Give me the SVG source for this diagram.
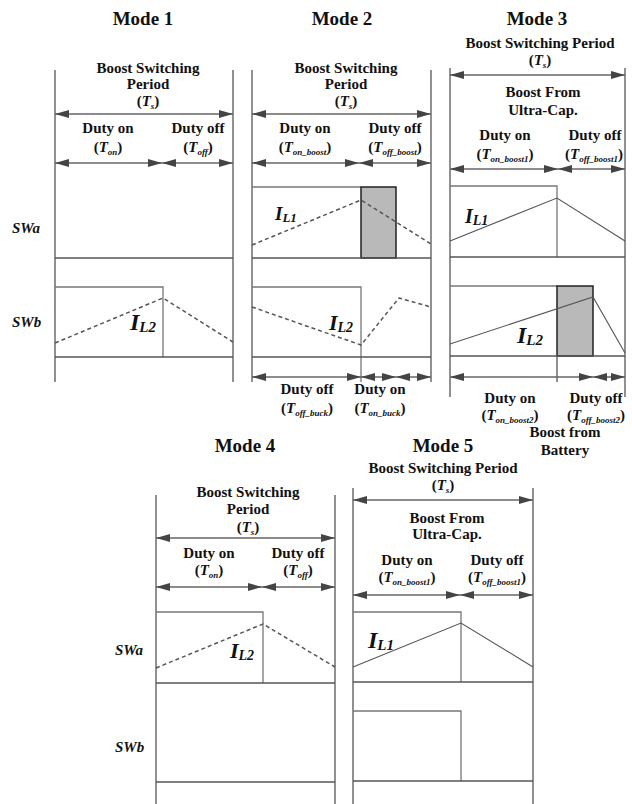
<svg xmlns="http://www.w3.org/2000/svg" width="632" height="804" viewBox="0 0 632 804">
<style>
text{font-family:"Liberation Serif","Times New Roman",serif;font-weight:bold;fill:#111}
.ttl{font-size:19px;text-anchor:middle}
.t{font-size:15px;text-anchor:middle}
.sw{font-size:15px;font-style:italic}
.i{font-style:italic}
.s{font-size:9px;font-style:italic}
.il{font-style:italic}
.v{stroke:#555;stroke-width:1.3;fill:none}
.h{stroke:#555;stroke-width:1.3;fill:none}
.p{stroke:#777;stroke-width:1.3;fill:none}
.d{stroke:#555;stroke-width:1.5;fill:none;stroke-dasharray:4 3}
.c{stroke:#555;stroke-width:1.1;fill:none}
.g{fill:#b9b9b9;stroke:#222;stroke-width:1.5}
.a{stroke:#666;stroke-width:1.5;fill:none;marker-start:url(#ah);marker-end:url(#ah)}
</style>
<defs>
<marker id="ah" viewBox="0 0 14 8" refX="14" refY="4" markerWidth="14" markerHeight="8" markerUnits="userSpaceOnUse" orient="auto-start-reverse"><path d="M0,0 L14,4 L0,8 z" fill="#444"/></marker>
</defs>

<g id="mode1">
<text class="ttl" x="143" y="25">Mode 1</text>
<line class="v" x1="55" y1="70" x2="55" y2="382"/>
<line class="v" x1="233" y1="70" x2="233" y2="382"/>
<text class="t" x="148" y="73">Boost Switching</text>
<text class="t" x="148" y="89">Period</text>
<text class="t" x="148" y="106">(<tspan class="i">T</tspan><tspan class="s" dy="3">s</tspan><tspan dy="-3">)</tspan></text>
<text class="t" x="108" y="133">Duty on</text>
<text class="t" x="108" y="152">(<tspan class="i">T</tspan><tspan class="s" dy="3">on</tspan><tspan dy="-3">)</tspan></text>
<text class="t" x="198" y="133">Duty off</text>
<text class="t" x="198" y="152">(<tspan class="i">T</tspan><tspan class="s" dy="3">off</tspan><tspan dy="-3">)</tspan></text>
<text class="sw" x="12" y="233">SWa</text>
<text class="sw" x="12" y="327">SWb</text>
<line class="h" x1="55" y1="258" x2="233" y2="258"/>
<polyline class="p" points="55,287 163,287 163,357"/>
<line class="h" x1="55" y1="357" x2="233" y2="357"/>
<polyline class="d" points="55,343 163,298 233,342"/>
<text class="il" x="130" y="330" font-size="24">I<tspan font-size="15" dy="2">L2</tspan></text>
</g>

<g id="mode2">
<text class="ttl" x="342" y="25">Mode 2</text>
<line class="v" x1="252" y1="70" x2="252" y2="382"/>
<line class="v" x1="431" y1="70" x2="431" y2="382"/>
<text class="t" x="346" y="73">Boost Switching</text>
<text class="t" x="346" y="89">Period</text>
<text class="t" x="346" y="106">(<tspan class="i">T</tspan><tspan class="s" dy="3">s</tspan><tspan dy="-3">)</tspan></text>
<text class="t" x="305" y="133">Duty on</text>
<text class="t" x="305" y="152">(<tspan class="i">T</tspan><tspan class="s" dy="3">on_boost</tspan><tspan dy="-3">)</tspan></text>
<text class="t" x="395" y="133">Duty off</text>
<text class="t" x="395" y="152">(<tspan class="i">T</tspan><tspan class="s" dy="3">off_boost</tspan><tspan dy="-3">)</tspan></text>
<polyline class="p" points="252,187 361,187"/>
<rect class="g" x="361" y="187" width="35" height="71"/>
<line class="h" x1="252" y1="258" x2="431" y2="258"/>
<polyline class="d" points="252,245 361,200 431,244"/>
<text class="il" x="275" y="220" font-size="19">I<tspan font-size="13" dy="2">L1</tspan></text>
<polyline class="p" points="252,287 361,287 361,382"/>
<line class="h" x1="252" y1="357" x2="431" y2="357"/>
<polyline class="d" points="252,307 361,345 399,298 431,307"/>
<text class="il" x="329" y="330" font-size="22">I<tspan font-size="14" dy="2">L2</tspan></text>
<text class="t" x="307" y="394">Duty off</text>
<text class="t" x="307" y="413">(<tspan class="i">T</tspan><tspan class="s" dy="3">off_buck</tspan><tspan dy="-3">)</tspan></text>
<text class="t" x="380" y="394">Duty on</text>
<text class="t" x="380" y="413">(<tspan class="i">T</tspan><tspan class="s" dy="3">on_buck</tspan><tspan dy="-3">)</tspan></text>
</g>

<g id="mode3">
<text class="ttl" x="537" y="25">Mode 3</text>
<line class="v" x1="450" y1="68" x2="450" y2="397"/>
<line class="v" x1="625" y1="68" x2="625" y2="397"/>
<text class="t" x="540" y="48">Boost Switching Period</text>
<text class="t" x="540" y="65">(<tspan class="i">T</tspan><tspan class="s" dy="3">s</tspan><tspan dy="-3">)</tspan></text>
<text class="t" x="543" y="97">Boost From</text>
<text class="t" x="543" y="115">Ultra-Cap.</text>
<text class="t" x="505" y="140">Duty on</text>
<text class="t" x="505" y="159">(<tspan class="i">T</tspan><tspan class="s" dy="3">on_boost1</tspan><tspan dy="-3">)</tspan></text>
<text class="t" x="595" y="140">Duty off</text>
<text class="t" x="594" y="159">(<tspan class="i">T</tspan><tspan class="s" dy="3">off_boost1</tspan><tspan dy="-3">)</tspan></text>
<polyline class="p" points="450,186 557,186 557,257"/>
<line class="h" x1="450" y1="257" x2="625" y2="257"/>
<polyline class="c" points="450,241 557,198 625,241"/>
<text class="il" x="465" y="223" font-size="20">I<tspan font-size="14" dy="2">L1</tspan></text>
<polyline class="p" points="450,286 557,286"/>
<rect class="g" x="557" y="286" width="36" height="70"/>
<line class="h" x1="450" y1="356" x2="625" y2="356"/>
<line class="v" x1="557" y1="356" x2="557" y2="382"/>
<polyline class="c" points="450,344 593,297 625,353"/>
<text class="il" x="517" y="343" font-size="24">I<tspan font-size="15" dy="2">L2</tspan></text>
<text class="t" x="510" y="403">Duty on</text>
<text class="t" x="510" y="420">(<tspan class="i">T</tspan><tspan class="s" dy="3">on_boost2</tspan><tspan dy="-3">)</tspan></text>
<text class="t" x="596" y="403">Duty off</text>
<text class="t" x="596" y="420">(<tspan class="i">T</tspan><tspan class="s" dy="3">off_boost2</tspan><tspan dy="-3">)</tspan></text>
<text class="t" x="565" y="437">Boost from</text>
<text class="t" x="565" y="455">Battery</text>
</g>

<g id="mode4">
<text class="ttl" x="245" y="452">Mode 4</text>
<line class="v" x1="156" y1="495" x2="156" y2="804"/>
<line class="v" x1="335" y1="495" x2="335" y2="804"/>
<text class="t" x="248" y="497">Boost Switching</text>
<text class="t" x="248" y="514">Period</text>
<text class="t" x="248" y="532">(<tspan class="i">T</tspan><tspan class="s" dy="3">s</tspan><tspan dy="-3">)</tspan></text>
<text class="t" x="209" y="558">Duty on</text>
<text class="t" x="209" y="575">(<tspan class="i">T</tspan><tspan class="s" dy="3">on</tspan><tspan dy="-3">)</tspan></text>
<text class="t" x="298" y="558">Duty off</text>
<text class="t" x="298" y="575">(<tspan class="i">T</tspan><tspan class="s" dy="3">off</tspan><tspan dy="-3">)</tspan></text>
<text class="sw" x="115" y="655">SWa</text>
<text class="sw" x="115" y="752">SWb</text>
<polyline class="p" points="156,612 263,612 263,683"/>
<line class="h" x1="156" y1="683" x2="335" y2="683"/>
<polyline class="d" points="156,668 263,624 335,667"/>
<text class="il" x="230" y="658" font-size="22">I<tspan font-size="14" dy="2">L2</tspan></text>
<line class="h" x1="156" y1="782" x2="335" y2="782"/>
</g>

<g id="mode5">
<text class="ttl" x="443" y="452">Mode 5</text>
<line class="v" x1="353" y1="488" x2="353" y2="804"/>
<line class="v" x1="533" y1="488" x2="533" y2="804"/>
<text class="t" x="443" y="473">Boost Switching Period</text>
<text class="t" x="443" y="490">(<tspan class="i">T</tspan><tspan class="s" dy="3">s</tspan><tspan dy="-3">)</tspan></text>
<text class="t" x="447" y="523">Boost From</text>
<text class="t" x="447" y="539">Ultra-Cap.</text>
<text class="t" x="407" y="565">Duty on</text>
<text class="t" x="407" y="582">(<tspan class="i">T</tspan><tspan class="s" dy="3">on_boost1</tspan><tspan dy="-3">)</tspan></text>
<text class="t" x="497" y="565">Duty off</text>
<text class="t" x="497" y="582">(<tspan class="i">T</tspan><tspan class="s" dy="3">off_boost1</tspan><tspan dy="-3">)</tspan></text>
<polyline class="p" points="353,612 461,612 461,682"/>
<line class="h" x1="353" y1="682" x2="533" y2="682"/>
<polyline class="c" points="353,667 461,623 533,667"/>
<text class="il" x="368" y="648" font-size="24">I<tspan font-size="15" dy="2">L1</tspan></text>
<polyline class="p" points="353,711 461,711 461,781"/>
<line class="h" x1="353" y1="781" x2="533" y2="781"/>
</g>

<g id="connectors">
<line class="a" x1="55" y1="114" x2="233" y2="114"/>
<line class="a" x1="55" y1="163" x2="162" y2="163"/>
<line class="a" x1="162" y1="163" x2="233" y2="163"/>
<line class="a" x1="252" y1="114" x2="431" y2="114"/>
<line class="a" x1="252" y1="163" x2="359" y2="163"/>
<line class="a" x1="359" y1="163" x2="431" y2="163"/>
<line class="a" x1="252" y1="377" x2="361" y2="377"/>
<line class="a" x1="361" y1="377" x2="396" y2="377"/>
<line class="a" x1="396" y1="377" x2="431" y2="377"/>
<line class="a" x1="450" y1="75" x2="625" y2="75"/>
<line class="a" x1="450" y1="169" x2="558" y2="169"/>
<line class="a" x1="558" y1="169" x2="625" y2="169"/>
<line class="a" x1="450" y1="377" x2="593" y2="377"/>
<line class="a" x1="593" y1="377" x2="625" y2="377"/>
<line class="a" x1="156" y1="538" x2="335" y2="538"/>
<line class="a" x1="156" y1="587" x2="262" y2="587"/>
<line class="a" x1="262" y1="587" x2="335" y2="587"/>
<line class="a" x1="353" y1="500" x2="533" y2="500"/>
<line class="a" x1="353" y1="595" x2="460" y2="595"/>
<line class="a" x1="460" y1="595" x2="533" y2="595"/>
</g>
</svg>
